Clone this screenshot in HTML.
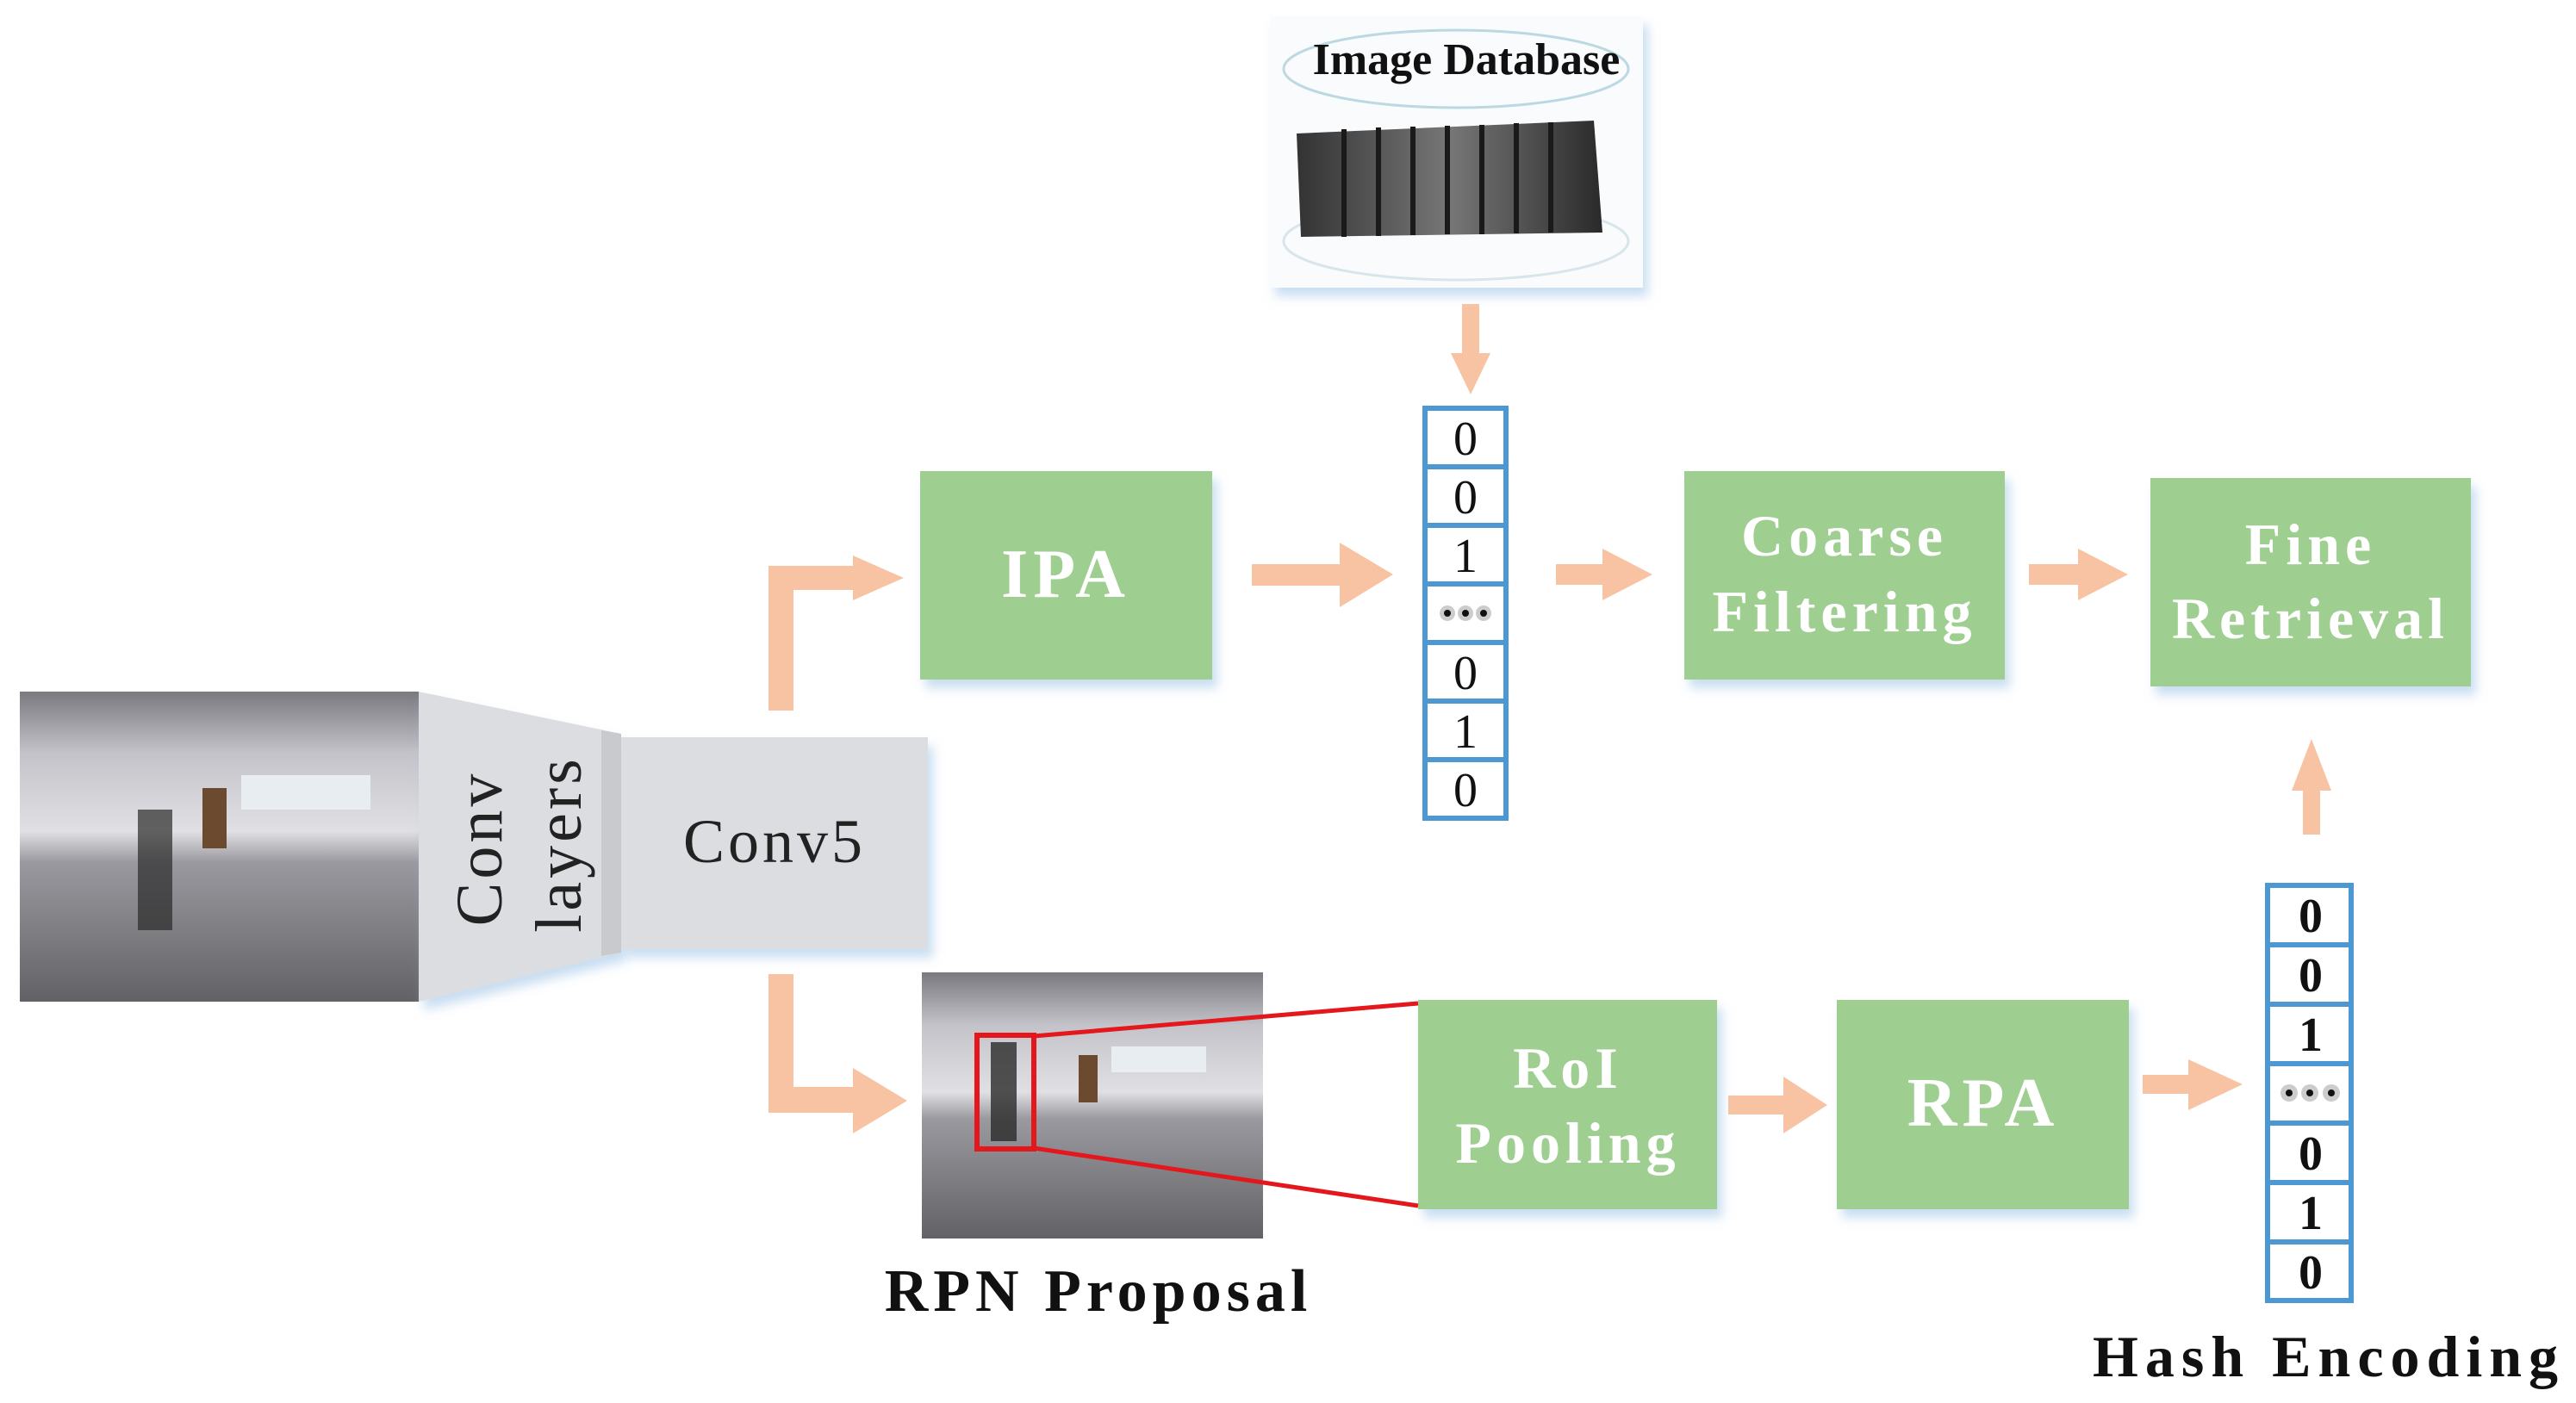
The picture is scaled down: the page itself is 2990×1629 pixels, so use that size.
<!DOCTYPE html>
<html><head><meta charset="utf-8"><style>
html,body{margin:0;padding:0;background:#fff}
svg{display:block}
text{font-family:"Liberation Serif",serif}
</style></head><body>
<svg width="2990" height="1629" viewBox="0 0 2990 1629" xmlns="http://www.w3.org/2000/svg">
<defs>
<linearGradient id="room" x1="0" y1="0" x2="0" y2="1">
<stop offset="0" stop-color="#7a797f"/><stop offset="0.2" stop-color="#c4c3c9"/>
<stop offset="0.45" stop-color="#e0e0e4"/><stop offset="0.55" stop-color="#9a999f"/>
<stop offset="1" stop-color="#626266"/></linearGradient>
<linearGradient id="db" x1="0" y1="0" x2="1" y2="0">
<stop offset="0" stop-color="#333"/><stop offset="0.5" stop-color="#777"/><stop offset="1" stop-color="#2a2a2a"/></linearGradient>
<filter id="sh" x="-10%" y="-10%" width="130%" height="130%"><feDropShadow dx="6" dy="10" stdDeviation="6" flood-color="#9cc3e6" flood-opacity="0.55"/></filter>
</defs>

<rect x="23" y="803" width="463" height="360" fill="url(#room)"/>
<rect x="160" y="940" width="40" height="140" fill="#2a2a2a" opacity="0.7"/>
<rect x="235" y="915" width="28" height="70" fill="#6b4a30"/>
<rect x="280" y="900" width="150" height="40" fill="#e8edf2"/>

<polygon points="486,803 721,852 721,1106 486,1163" fill="#dcdde0" filter="url(#sh)"/>
<polygon points="698,848 721,852 721,1106 698,1110" fill="#c9cacd"/>
<text transform="translate(582,985) rotate(-90)" text-anchor="middle" font-size="76" fill="#222" letter-spacing="4">Conv</text>
<text transform="translate(674,980) rotate(-90)" text-anchor="middle" font-size="76" fill="#222" letter-spacing="4">layers</text>

<rect x="721" y="856" width="356" height="246" fill="#dcdde0" filter="url(#sh)"/>
<text x="899" y="1001" text-anchor="middle" font-size="72" fill="#222" letter-spacing="4">Conv5</text>

<g fill="#f8c3a3">
<polygon points="892,825 921,825 921,685 990,685 990,645 1049,671 990,697 990,657 892,657"/>
<polygon points="892,1131 921,1131 921,1262 990,1262 990,1240 1053,1278 990,1316 990,1292 892,1292"/>
<polygon points="1453,655 1555,655 1555,630 1617,667 1555,705 1555,680 1453,680"/>
<polygon points="1697,353 1717,353 1717,410 1730,410 1707,458 1684,410 1697,410"/>
<polygon points="1806,655 1860,655 1860,637 1918,667 1860,697 1860,679 1806,679"/>
<polygon points="2355,655 2412,655 2412,637 2470,667 2412,697 2412,679 2355,679"/>
<polygon points="2673,969 2693,969 2693,918 2706,918 2683,858 2660,918 2673,918"/>
<polygon points="2006,1272 2070,1272 2070,1250 2121,1283 2070,1316 2070,1294 2006,1294"/>
<polygon points="2487,1248 2540,1248 2540,1230 2603,1259 2540,1289 2540,1270 2487,1270"/>
</g>

<g fill="#9ecf90" filter="url(#sh)">
<rect x="1068" y="547" width="339" height="242"/>
<rect x="1955" y="547" width="372" height="242"/>
<rect x="2496" y="555" width="372" height="242"/>
<rect x="1646" y="1161" width="347" height="243"/>
<rect x="2132" y="1161" width="339" height="243"/>
</g>
<g fill="#fff" font-weight="bold" text-anchor="middle" letter-spacing="6">
<text x="1237" y="693" font-size="80">IPA</text>
<text x="2141" y="645" font-size="68">Coarse</text>
<text x="2141" y="733" font-size="68">Filtering</text>
<text x="2682" y="655" font-size="68">Fine</text>
<text x="2682" y="741" font-size="68">Retrieval</text>
<text x="1820" y="1263" font-size="68">RoI</text>
<text x="1820" y="1350" font-size="68">Pooling</text>
<text x="2302" y="1307" font-size="80">RPA</text>
</g>

<rect x="1474" y="19" width="433" height="315" fill="#f9fbfd" filter="url(#sh)"/>
<ellipse cx="1690" cy="80" rx="200" ry="45" fill="none" stroke="#bcd8e0" stroke-width="3"/>
<ellipse cx="1690" cy="280" rx="200" ry="45" fill="none" stroke="#d8e6ea" stroke-width="3"/>
<polygon points="1505,155 1850,140 1860,270 1510,275" fill="url(#db)"/>
<g stroke="#1a1a1a" stroke-width="6">
<line x1="1560" y1="150" x2="1560" y2="275"/><line x1="1600" y1="148" x2="1600" y2="274"/>
<line x1="1640" y1="147" x2="1640" y2="273"/><line x1="1680" y1="146" x2="1680" y2="272"/>
<line x1="1720" y1="145" x2="1720" y2="272"/><line x1="1760" y1="143" x2="1760" y2="271"/>
<line x1="1800" y1="142" x2="1800" y2="270"/></g>
<text x="1702" y="86" text-anchor="middle" font-size="52" font-weight="bold" fill="#111">Image Database</text>

<g fill="#fff" stroke="#4b98d2" stroke-width="6">
<rect x="1654" y="474" width="94" height="476"/>
<rect x="2632" y="1028" width="97" height="482"/>
</g>
<g stroke="#4b98d2" stroke-width="6">
<line x1="1654" y1="542" x2="1748" y2="542"/><line x1="1654" y1="610" x2="1748" y2="610"/>
<line x1="1654" y1="678" x2="1748" y2="678"/><line x1="1654" y1="746" x2="1748" y2="746"/>
<line x1="1654" y1="814" x2="1748" y2="814"/><line x1="1654" y1="882" x2="1748" y2="882"/>
<line x1="2632" y1="1097" x2="2729" y2="1097"/><line x1="2632" y1="1166" x2="2729" y2="1166"/>
<line x1="2632" y1="1235" x2="2729" y2="1235"/><line x1="2632" y1="1304" x2="2729" y2="1304"/>
<line x1="2632" y1="1373" x2="2729" y2="1373"/><line x1="2632" y1="1442" x2="2729" y2="1442"/>
</g>
<g font-size="56" text-anchor="middle" fill="#111">
<text x="1701" y="528">0</text><text x="1701" y="596">0</text><text x="1701" y="664">1</text>
<text x="1701" y="800">0</text><text x="1701" y="868">1</text><text x="1701" y="936">0</text>
</g>
<g font-size="56" font-weight="bold" text-anchor="middle" fill="#111">
<text x="2682" y="1082">0</text><text x="2682" y="1151">0</text><text x="2682" y="1220">1</text>
<text x="2682" y="1358">0</text><text x="2682" y="1427">1</text><text x="2682" y="1496">0</text>
</g>
<g><circle cx="1680" cy="712" r="9" fill="#ccc"/><circle cx="1701" cy="712" r="9" fill="#ccc"/><circle cx="1722" cy="712" r="9" fill="#ccc"/>
<circle cx="1680" cy="712" r="4" fill="#111"/><circle cx="1701" cy="712" r="4" fill="#111"/><circle cx="1722" cy="712" r="4" fill="#111"/>
<circle cx="2657" cy="1269" r="10" fill="#ccc"/><circle cx="2681" cy="1269" r="10" fill="#ccc"/><circle cx="2706" cy="1269" r="10" fill="#ccc"/>
<circle cx="2657" cy="1269" r="4" fill="#111"/><circle cx="2681" cy="1269" r="4" fill="#111"/><circle cx="2706" cy="1269" r="4" fill="#111"/></g>

<rect x="1070" y="1129" width="396" height="309" fill="url(#room)"/>
<rect x="1150" y="1210" width="30" height="115" fill="#2a2a2a" opacity="0.8"/>
<rect x="1252" y="1225" width="22" height="55" fill="#6b4a30"/>
<rect x="1290" y="1215" width="110" height="30" fill="#e8edf2"/>
<rect x="1134" y="1202" width="66" height="132" fill="none" stroke="#e3171c" stroke-width="6"/>
<line x1="1200" y1="1203" x2="1646" y2="1165" stroke="#e3171c" stroke-width="5"/>
<line x1="1200" y1="1333" x2="1646" y2="1400" stroke="#e3171c" stroke-width="5"/>

<text x="1275" y="1522" text-anchor="middle" font-size="70" font-weight="bold" fill="#111" letter-spacing="6">RPN Proposal</text>
<text x="2703" y="1598" text-anchor="middle" font-size="68" font-weight="bold" fill="#111" letter-spacing="8">Hash Encoding</text>
</svg>
</body></html>
